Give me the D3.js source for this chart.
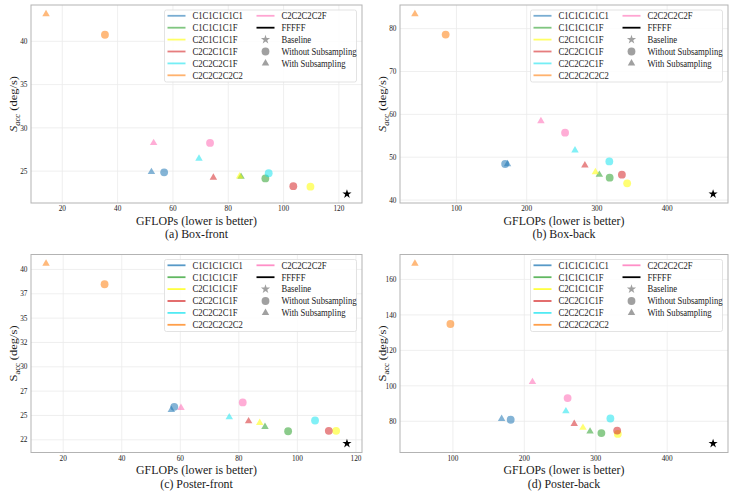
<!DOCTYPE html>
<html>
<head>
<meta charset="utf-8">
<script src="https://cdn.jsdelivr.net/npm/d3@7"></script>
<style>
body { margin: 0; background: #fff; }
svg { display: block; }
</style>
</head>
<body>
<div id="chart"></div>
<script>
// model variants, same order in every array below
var configs = ["C1C1C1C1C1", "C1C1C1C1F", "C2C1C1C1F", "C2C2C1C1F", "C2C2C2C1F", "C2C2C2C2C2", "C2C2C2C2F"];
var legendOrder = ["C1C1C1C1C1", "C1C1C1C1F", "C2C1C1C1F", "C2C2C1C1F", "C2C2C2C1F", "C2C2C2C2C2", "C2C2C2C2F", "FFFFF"];
var markerNames = ["Baseline", "Without Subsampling", "With Subsampling"];
var colors = ["#1f77b4", "#2ca02c", "#ffff00", "#d62728", "#19e3ef", "#ff7f0e", "#ff69b4"];

// (a) Box-front
var boxFrontNoSubX = [57.0, 93.6, 109.9, 103.7, 94.8, 35.6, 73.6];
var boxFrontNoSubY = [24.8, 24.1, 23.15, 23.2, 24.7, 40.7, 28.2];
var boxFrontSubX = [52.4, 84.8, 84.3, 74.8, 69.6, 14.3, 53.2];
var boxFrontSubY = [24.85, 24.3, 24.35, 24.2, 26.4, 43.1, 28.2];
var boxFrontBase = [123.1, 22.3];
var boxFrontXTicks = [20, 40, 60, 80, 100, 120];
var boxFrontYTicks = [25, 30, 35, 40];

// (b) Box-back
var boxBackNoSubX = [170, 318.9, 343.8, 336.3, 318.4, 85.3, 255.4];
var boxBackNoSubY = [48.3, 45.1, 43.8, 45.8, 48.9, 78.5, 55.6];
var boxBackSubX = [173.4, 304.2, 298.6, 283.6, 269.5, 41.5, 221];
var boxBackSubY = [48.3, 45.8, 46.4, 48.0, 51.5, 83.3, 58.3];
var boxBackBase = [466.2, 41.3];
var boxBackXTicks = [100, 200, 300, 400];
var boxBackYTicks = [40, 50, 60, 70, 80];

// (c) Poster-front
var posterFrontNoSubX = [58.1, 97.0, 113.4, 110.9, 106.2, 34.3, 81.5];
var posterFrontNoSubY = [25.84, 23.33, 23.37, 23.37, 24.43, 38.43, 26.29];
var posterFrontSubX = [57.1, 89.1, 87.3, 83.5, 76.9, 14.3, 60.4];
var posterFrontSubY = [25.53, 23.79, 24.2, 24.36, 24.77, 40.56, 25.74];
var posterFrontBase = [117.1, 22.07];
var posterFrontXTicks = [20, 40, 60, 80, 100, 120];
var posterFrontYTicks = [22.5, 25, 27.5, 30, 32.5, 35, 37.5, 40];

// (d) Poster-back
var posterBackNoSubX = [181.6, 308.6, 331.6, 330.7, 321.2, 97.2, 261.3];
var posterBackNoSubY = [80.6, 73.1, 72.6, 74.5, 81.3, 134.6, 92.8];
var posterBackSubX = [168.9, 292.7, 282.8, 270.6, 258.9, 47.5, 212.1];
var posterBackSubY = [81.1, 74.0, 76.1, 78.3, 85.4, 168.7, 101.9];
var posterBackBase = [465, 67.2];
var posterBackXTicks = [100, 200, 300, 400];
var posterBackYTicks = [80, 100, 120, 140, 160];

var panels = [
    {title: "(a) Box-front", noSubX: boxFrontNoSubX, noSubY: boxFrontNoSubY, subX: boxFrontSubX, subY: boxFrontSubY,
     base: boxFrontBase, xTicks: boxFrontXTicks, yTicks: boxFrontYTicks, italic: true},
    {title: "(b) Box-back", noSubX: boxBackNoSubX, noSubY: boxBackNoSubY, subX: boxBackSubX, subY: boxBackSubY,
     base: boxBackBase, xTicks: boxBackXTicks, yTicks: boxBackYTicks, italic: true},
    {title: "(c) Poster-front", noSubX: posterFrontNoSubX, noSubY: posterFrontNoSubY, subX: posterFrontSubX, subY: posterFrontSubY,
     base: posterFrontBase, xTicks: posterFrontXTicks, yTicks: posterFrontYTicks, italic: false},
    {title: "(d) Poster-back", noSubX: posterBackNoSubX, noSubY: posterBackNoSubY, subX: posterBackSubX, subY: posterBackSubY,
     base: posterBackBase, xTicks: posterBackXTicks, yTicks: posterBackYTicks, italic: false}
];

var width = 732, height = 493;
var SX = 0.88; // text is a bit narrow in the picture
var FONT = "'Liberation Serif', 'DejaVu Serif', 'Times New Roman', serif";

// plot frames: [x0, y0, x1, y1]
var frames = [
    [31, 5, 362, 203],
    [400, 5, 728, 203],
    [31, 254.5, 362, 452.5],
    [400, 254.5, 728, 452.5]
];

var svg = d3.select("#chart")
    .append("svg")
    .attr("width", width)
    .attr("height", height)
    .attr("font-family", FONT);

svg.append("rect").attr("width", width).attr("height", height).attr("fill", "#fff");

function padded(vals) {
    var e = d3.extent(vals);
    var s = e[1] - e[0];
    return [e[0] - 0.05 * s, e[1] + 0.05 * s];
}

function label(g, x, y, str, size, anchor) {
    return g.append("text")
        .attr("transform", "translate(" + x + "," + y + ") scale(" + SX + ",1)")
        .attr("text-anchor", anchor || "middle")
        .attr("font-family", FONT)
        .attr("font-weight", "normal")
        .attr("font-size", size)
        .attr("fill", "#1a1a1a")
        .text(str);
}

var tri = d3.symbol().type(d3.symbolTriangle).size(24);
var circ = d3.symbol().type(d3.symbolCircle).size(48);
var star = d3.symbol().type(d3.symbolStar).size(26);

panels.forEach(function(p, k) {
    var f = frames[k];
    var g = svg.append("g");

    var x = d3.scaleLinear()
        .domain(padded(p.noSubX.concat(p.subX, [p.base[0]])))
        .range([f[0], f[2]]);
    var y = d3.scaleLinear()
        .domain(padded(p.noSubY.concat(p.subY, [p.base[1]])))
        .range([f[3], f[1]]);

    var xAxis = g.append("g")
        .attr("transform", "translate(0," + f[3] + ")")
        .call(d3.axisBottom(x).tickValues(p.xTicks).tickSize(-(f[3] - f[1])).tickPadding(2.5).tickFormat(d3.format("d")));
    var yAxis = g.append("g")
        .attr("transform", "translate(" + f[0] + ",0)")
        .call(d3.axisLeft(y).tickValues(p.yTicks).tickSize(-(f[2] - f[0])).tickPadding(4)
            .tickFormat(function(d) { return Math.floor(d); }));

    [xAxis, yAxis].forEach(function(a) {
        a.attr("font-family", FONT).attr("font-size", 8.3);
        a.select(".domain").remove();
        a.selectAll(".tick line").attr("stroke", "#ebebeb").attr("stroke-width", 0.8);
        a.selectAll(".tick text")
            .attr("transform", "scale(" + SX + ",1)")
            .attr("fill", "#222");
    });

    g.append("rect")
        .attr("x", f[0]).attr("y", f[1])
        .attr("width", f[2] - f[0]).attr("height", f[3] - f[1])
        .attr("fill", "none").attr("stroke", "#b3b3b3").attr("stroke-width", 1);

    // with subsampling
    g.selectAll("path.sub")
        .data(configs)
        .enter()
        .append("path")
        .attr("d", tri)
        .attr("transform", function(d, i) { return "translate(" + x(p.subX[i]) + "," + y(p.subY[i]) + ")"; })
        .attr("fill", function(d, i) { return colors[i]; })
        .attr("fill-opacity", 0.55);

    // without subsampling
    g.selectAll("path.nosub")
        .data(configs)
        .enter()
        .append("path")
        .attr("d", circ)
        .attr("transform", function(d, i) { return "translate(" + x(p.noSubX[i]) + "," + y(p.noSubY[i]) + ")"; })
        .attr("fill", function(d, i) { return colors[i]; })
        .attr("fill-opacity", 0.55);

    g.append("path")
        .attr("d", star)
        .attr("transform", "translate(" + x(p.base[0]) + "," + y(p.base[1]) + ")")
        .attr("fill", "#000");

    // axis titles
    var cx = (f[0] + f[2]) / 2, cy = (f[1] + f[3]) / 2;
    label(g, cx, f[3] + 21.5, "GFLOPs (lower is better)", 13.5);
    label(g, cx, f[3] + 35, p.title, 13.5);

    var yl = g.append("text")
        .attr("transform", "translate(" + (f[0] - 14) + "," + cy + ") scale(" + SX + ",1) rotate(-90)")
        .attr("text-anchor", "middle")
        .attr("font-family", FONT)
        .attr("font-size", 12.5)
        .attr("fill", "#1a1a1a");
    yl.append("tspan").attr("font-style", p.italic ? "italic" : "normal").text("S");
    yl.append("tspan").attr("dy", 3).attr("font-size", 8.5).attr("font-style", p.italic ? "italic" : "normal").text("acc");
    yl.append("tspan").attr("dy", -3).text(" (deg/s)");

    // legend
    var lw = 192, lh = 72;
    var lg = g.append("g").attr("transform", "translate(" + (f[2] - 5.5 - lw) + "," + (f[1] + 5) + ")");
    lg.append("rect")
        .attr("width", lw).attr("height", lh).attr("rx", 2)
        .attr("fill", "#fff").attr("fill-opacity", 0.85)
        .attr("stroke", "#dcdcdc").attr("stroke-width", 0.8);

    var lineAlpha = k < 2 ? 0.6 : 0.75;
    var rowY = function(i) { return 5.8 + i * 11.9; };
    legendOrder.forEach(function(name, i) {
        var col = i < 6 ? 0 : 1;
        var row = i < 6 ? i : i - 6;
        var ci = configs.indexOf(name);
        var lx = col === 0 ? 3 : 92;
        lg.append("line")
            .attr("x1", lx).attr("x2", lx + 18)
            .attr("y1", rowY(row)).attr("y2", rowY(row))
            .attr("stroke", ci >= 0 ? colors[ci] : "#000")
            .attr("stroke-opacity", ci >= 0 ? lineAlpha : 1)
            .attr("stroke-width", 1.8);
        label(lg, lx + 25, rowY(row) + 3.3, name, 9.8, "start");
    });
    [star, circ, tri].forEach(function(sym, j) {
        lg.append("path")
            .attr("d", sym)
            .attr("transform", "translate(101," + rowY(j + 2) + ")")
            .attr("fill", "#777")
            .attr("fill-opacity", 0.7);
        label(lg, 117, rowY(j + 2) + 3.3, markerNames[j], 9.8, "start");
    });
});
</script>
</body>
</html>
